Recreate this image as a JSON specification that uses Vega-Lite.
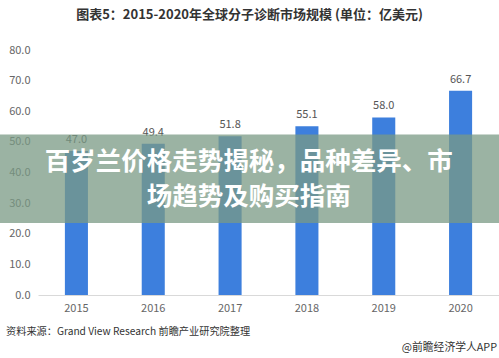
{
  "$schema": "https://vega.github.io/schema/vega-lite/v6.json",
  "width": 461,
  "height": 245,
  "autosize": {"type": "none"},
  "padding": {"left": 38, "top": 50, "right": 0, "bottom": 63},
  "background": "white",
  "config": {
    "view": {"stroke": null},
    "font": "Noto Sans CJK SC",
    "text": {"font": "Noto Sans CJK SC"},
    "axisY": {"tickCount": 9, "labelExpr": "format(datum.value, '.1f')", "labelOverlap": false, "grid": false, "domain": false, "ticks": false, "labelPadding": 8, "labelColor": "#666666", "labelFontSize": 11, "labelFont": "Noto Sans CJK SC"}
  },
  "title": {
    "text": "图表5：2015-2020年全球分子诊断市场规模 (单位：亿美元)",
    "fontSize": 13,
    "fontWeight": "bold",
    "color": "#333333",
    "anchor": "middle",
    "dx": -19,
    "offset": 22,
    "font": "Noto Sans CJK SC"
  },
  "data": {
    "values": [
      {"year": "2015", "value": 47.0},
      {"year": "2016", "value": 49.4},
      {"year": "2017", "value": 51.8},
      {"year": "2018", "value": 55.1},
      {"year": "2019", "value": 58.0},
      {"year": "2020", "value": 66.7}
    ]
  },
  "resolve": {"scale": {"x": "independent"}},
  "layer": [
    {
      "mark": {"type": "bar", "color": "#3d7fdd"},
      "encoding": {
        "x": {
          "field": "year", "type": "nominal",
          "scale": {"paddingInner": 0.7, "paddingOuter": 0.35},
          "axis": {"title": null, "labelAngle": 0, "ticks": false, "domainColor": "#d9d9d9", "labelPadding": 7, "labelColor": "#666666", "labelFontSize": 11, "labelFont": "Noto Sans CJK SC"}
        },
        "y": {
          "field": "value", "type": "quantitative", "title": null,
          "scale": {"domain": [0, 80], "nice": false}
        }
      }
    },
    {
      "mark": {"type": "text", "baseline": "bottom", "dy": -6, "fontSize": 11, "color": "#555555"},
      "encoding": {
        "x": {"field": "year", "type": "nominal", "scale": {"paddingInner": 0.7, "paddingOuter": 0.35}, "axis": null},
        "y": {"field": "value", "type": "quantitative", "title": null},
        "text": {"field": "value", "type": "quantitative", "format": ".1f"}
      }
    },
    {
      "data": {"values": [{}]},
      "mark": {"type": "rect", "color": "#7a9a84", "opacity": 0.75},
      "encoding": {
        "x": {"datum": -0.0825, "type": "quantitative", "scale": {"domain": [0, 1]}, "axis": null},
        "x2": {"datum": 1},
        "y": {"datum": 52.4, "type": "quantitative", "title": null},
        "y2": {"datum": 23.5}
      }
    },
    {
      "data": {"values": [{}]},
      "mark": {"type": "text", "text": "百岁兰价格走势揭秘，品种差异、市", "color": "white", "fontSize": 25.5, "fontWeight": "bold", "align": "center", "baseline": "middle"},
      "encoding": {
        "x": {"datum": 0.457, "type": "quantitative", "scale": {"domain": [0, 1]}, "axis": null},
        "y": {"datum": 43.3, "type": "quantitative", "title": null}
      }
    },
    {
      "data": {"values": [{}]},
      "mark": {"type": "text", "text": "场趋势及购买指南", "color": "white", "fontSize": 25.5, "fontWeight": "bold", "align": "center", "baseline": "middle"},
      "encoding": {
        "x": {"datum": 0.457, "type": "quantitative", "scale": {"domain": [0, 1]}, "axis": null},
        "y": {"datum": 31.9, "type": "quantitative", "title": null}
      }
    },
    {
      "data": {"values": [{}]},
      "mark": {"type": "text", "text": "资料来源：Grand View Research 前瞻产业研究院整理", "color": "#333333", "fontSize": 10.2, "align": "left", "baseline": "middle"},
      "encoding": {
        "x": {"datum": -0.0694, "type": "quantitative", "scale": {"domain": [0, 1]}, "axis": null},
        "y": {"datum": -12.05, "type": "quantitative", "title": null}
      }
    },
    {
      "data": {"values": [{}]},
      "mark": {"type": "text", "text": "@前瞻经济学人APP", "color": "#333333", "fontSize": 10.8, "align": "right", "baseline": "middle"},
      "encoding": {
        "x": {"datum": 0.9957, "type": "quantitative", "scale": {"domain": [0, 1]}, "axis": null},
        "y": {"datum": -17.3, "type": "quantitative", "title": null}
      }
    }
  ]
}
